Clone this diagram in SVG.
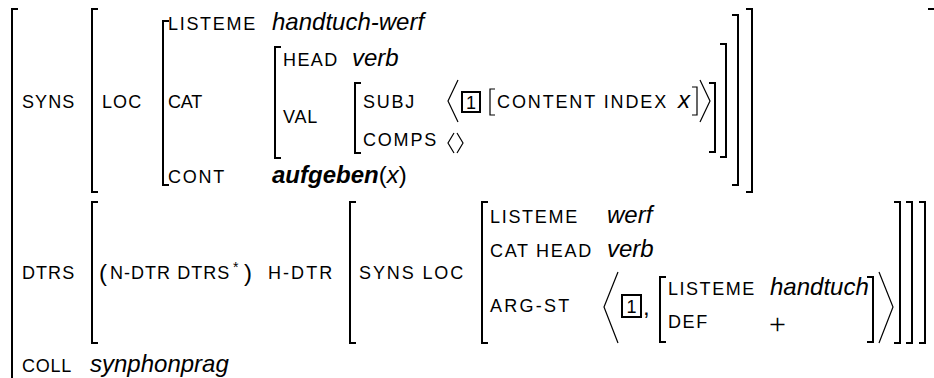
<svg xmlns="http://www.w3.org/2000/svg" width="934" height="378" viewBox="0 0 934 378">
<style>
text { font-family: "Liberation Sans", Arial, Helvetica, sans-serif; fill: #000; }
.sc { font-size: 18px; letter-spacing: 1.8px; }
.it { font-size: 24px; font-style: italic; }
.bi { font-size: 24px; font-style: italic; font-weight: bold; }
.rm { font-size: 24px; }
.num { font-size: 18px; text-anchor: middle; }
.br { fill: none; stroke: #000; stroke-width: 2; }
.thin { fill: none; stroke: #000; stroke-width: 1.2; }
.box { fill: none; stroke: #000; stroke-width: 2; }
.plus { font-family: "Liberation Serif", "Times New Roman", serif; font-size: 30px; }
</style>
<rect width="934" height="378" fill="#fff"/>

<g id="outer">
  <polyline class="br" points="18,9 12,9 12,380"/>
  <polyline class="br" points="928,9 935,9 935,380"/>
</g>

<g id="syns">
  <text class="sc" x="22" y="108" textLength="54">SYNS</text>
  <polyline class="br" points="98,9 92,9 92,192 98,192"/>
  <polyline class="br" points="746,9 752,9 752,192 746,192"/>
  <text class="sc" x="102" y="108" textLength="41">LOC</text>
  <polyline class="br" points="169,21 163,21 163,185 169,185"/>
  <polyline class="br" points="732,15 738,15 738,185 732,185"/>
</g>

<g id="loc">
  <text class="sc" x="168" y="30" textLength="89">LISTEME</text>
  <text class="it" x="272" y="30">handtuch-werf</text>
  <text class="sc" x="168" y="108" textLength="36">CAT</text>
  <text class="sc" x="168" y="183" textLength="58">CONT</text>
  <text x="272" y="183"><tspan class="bi">aufgeben</tspan><tspan class="rm">(</tspan><tspan class="it">x</tspan><tspan class="rm">)</tspan></text>
</g>

<g id="cat">
  <polyline class="br" points="281,47 275,47 275,158 281,158"/>
  <polyline class="br" points="720,44 726,44 726,157 720,157"/>
  <text class="sc" x="283" y="66" textLength="56">HEAD</text>
  <text class="it" x="352" y="66">verb</text>
  <text class="sc" x="283" y="123" textLength="36">VAL</text>
</g>

<g id="val">
  <polyline class="br" points="361,83 355,83 355,153 361,153"/>
  <polyline class="br" points="709,83 715,83 715,152 709,152"/>
  <text class="sc" x="363" y="108" textLength="53">SUBJ</text>
  <polyline class="thin" points="458,80 448,101 458,122"/>
  <rect class="box" x="462" y="92" width="18" height="20"/>
  <text class="num" x="471" y="108.5">1</text>
  <polyline class="thin" points="495,89 490,89 490,115 495,115"/>
  <text class="sc" x="497" y="108" textLength="171">CONTENT INDEX</text>
  <text class="it" x="678" y="108">x</text>
  <polyline class="thin" points="692,87 697,87 697,115 692,115"/>
  <polyline class="thin" points="700,80 710,101 700,122"/>
  <text class="sc" x="363" y="146" textLength="75">COMPS</text>
  <polyline class="thin" points="454,133 448,143 454,153"/>
  <polyline class="thin" points="457,133 463,143 457,153"/>
</g>

<g id="dtrs">
  <text class="sc" x="22" y="279" textLength="54">DTRS</text>
  <polyline class="br" points="98,202 92,202 92,343 98,343"/>
  <polyline class="br" points="919,202 925,202 925,343 919,343"/>
  <text class="rm" x="99" y="281">(</text>
  <text class="sc" x="110" y="279" textLength="121">N-DTR DTRS</text>
  <text x="233" y="272" style="font-size:14px">*</text>
  <text class="rm" x="244" y="281">)</text>
  <text class="sc" x="268" y="279" textLength="66">H-DTR</text>
  <polyline class="br" points="356,202 350,202 350,343 356,343"/>
  <polyline class="br" points="906,202 912,202 912,343 906,343"/>
</g>

<g id="hdtr">
  <text class="sc" x="359" y="279" textLength="106">SYNS LOC</text>
  <polyline class="br" points="488,202 482,202 482,343 488,343"/>
  <polyline class="br" points="894,202 900,202 900,343 894,343"/>
  <text class="sc" x="490" y="223" textLength="89">LISTEME</text>
  <text class="it" x="607" y="223">werf</text>
  <text class="sc" x="490" y="257" textLength="103">CAT HEAD</text>
  <text class="it" x="607" y="257">verb</text>
  <text class="sc" x="490" y="312" textLength="81">ARG-ST</text>
</g>

<g id="argst">
  <polyline class="thin" points="618,272 604,307 618,343"/>
  <rect class="box" x="622" y="295" width="19" height="22"/>
  <text class="num" x="631.5" y="312.5">1</text>
  <text class="rm" x="643" y="315">,</text>
  <polyline class="br" points="666,277 660,277 660,342 666,342"/>
  <text class="sc" x="668" y="295" textLength="88">LISTEME</text>
  <text class="it" x="770" y="295">handtuch</text>
  <text class="sc" x="668" y="328" textLength="41">DEF</text>
  <text class="plus" x="769" y="334">+</text>
  <polyline class="br" points="867,277 873,277 873,342 867,342"/>
  <polyline class="thin" points="879,272 893,307 879,343"/>
</g>

<g id="coll">
  <text class="sc" x="22" y="372" textLength="51">COLL</text>
  <text class="it" x="90" y="372">synphonprag</text>
</g>
</svg>
